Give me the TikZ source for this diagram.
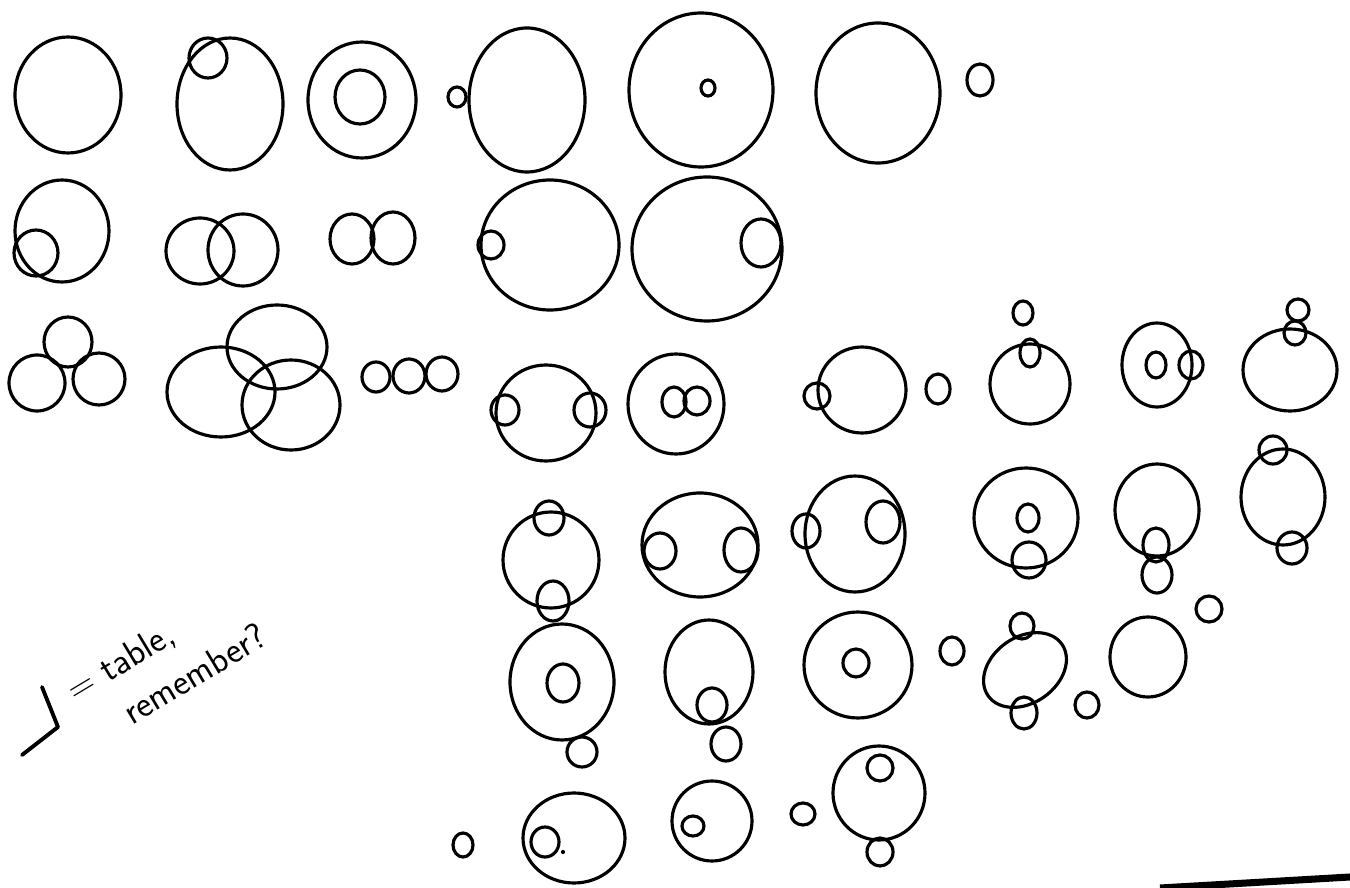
\documentclass[tikz,border=0pt]{standalone}
\usepackage{tikz}
\newcommand{\pxu}{0.02cm}

\begin{document}
\begin{tikzpicture}[
    x=0.02cm, y=-0.02cm,
    ring/.style={draw=black, line width=1.8pt},
    tick/.style={draw=black, line width=2.2pt, line cap=round, line join=round},
    note/.style={font=\sffamily\fontsize{21}{28}\selectfont, inner sep=0pt, align=left}
  ]
    \useasboundingbox (0,0) rectangle (1350,888);

    % row 1
    \draw[ring] (68,95) ellipse [x radius=53*\pxu, y radius=58*\pxu];
    \draw[ring] (230,104) ellipse [x radius=53*\pxu, y radius=66*\pxu];
    \draw[ring] (208,58) ellipse [x radius=19*\pxu, y radius=20*\pxu];
    \draw[ring] (362,100) ellipse [x radius=54*\pxu, y radius=58*\pxu];
    \draw[ring] (360,97) ellipse [x radius=25*\pxu, y radius=27*\pxu];
    \draw[ring] (457,97) ellipse [x radius=9*\pxu, y radius=10*\pxu];
    \draw[ring] (527,100) ellipse [x radius=58*\pxu, y radius=72*\pxu];
    \draw[ring] (701,90) ellipse [x radius=72*\pxu, y radius=77*\pxu];
    \draw[ring] (708,88) ellipse [x radius=7*\pxu, y radius=8*\pxu];
    \draw[ring] (878,93) ellipse [x radius=62*\pxu, y radius=70*\pxu];
    \draw[ring] (980,80) ellipse [x radius=13*\pxu, y radius=16*\pxu];

    % row 2
    \draw[ring] (62,231) ellipse [x radius=47*\pxu, y radius=51*\pxu];
    \draw[ring] (36,253) ellipse [x radius=22*\pxu, y radius=23*\pxu];
    \draw[ring] (200,251) ellipse [x radius=34*\pxu, y radius=33*\pxu];
    \draw[ring] (243,250) ellipse [x radius=35*\pxu, y radius=36*\pxu];
    \draw[ring] (352,239) ellipse [x radius=22*\pxu, y radius=25*\pxu];
    \draw[ring] (393,238) ellipse [x radius=22*\pxu, y radius=26*\pxu];
    \draw[ring] (550,245) ellipse [x radius=69*\pxu, y radius=65*\pxu];
    \draw[ring] (491,245) ellipse [x radius=13*\pxu, y radius=14*\pxu];
    \draw[ring] (707,249) ellipse [x radius=75*\pxu, y radius=72*\pxu];
    \draw[ring] (761,243) ellipse [x radius=20*\pxu, y radius=24*\pxu];

    % row 3, left
    \draw[ring] (68,342) ellipse [x radius=24*\pxu, y radius=25*\pxu];
    \draw[ring] (37,383) ellipse [x radius=28*\pxu, y radius=28*\pxu];
    \draw[ring] (99,379) ellipse [x radius=26*\pxu, y radius=26*\pxu];
    \draw[ring] (221,392) ellipse [x radius=54*\pxu, y radius=45*\pxu];
    \draw[ring] (277,347) ellipse [x radius=50*\pxu, y radius=42*\pxu];
    \draw[ring] (291,405) ellipse [x radius=49*\pxu, y radius=45*\pxu];
    \draw[ring] (376,377) ellipse [x radius=14*\pxu, y radius=15*\pxu];
    \draw[ring] (409,376) ellipse [x radius=16*\pxu, y radius=17*\pxu];
    \draw[ring] (442,374) ellipse [x radius=16*\pxu, y radius=17*\pxu];

    % row 3, right
    \draw[ring] (546,413) ellipse [x radius=50*\pxu, y radius=48*\pxu];
    \draw[ring] (505,410) ellipse [x radius=14*\pxu, y radius=15*\pxu];
    \draw[ring] (590,410) ellipse [x radius=16*\pxu, y radius=17*\pxu];
    \draw[ring] (676,404) ellipse [x radius=48*\pxu, y radius=50*\pxu];
    \draw[ring] (674,402) ellipse [x radius=12*\pxu, y radius=15*\pxu];
    \draw[ring] (697,401) ellipse [x radius=13*\pxu, y radius=14*\pxu];
    \draw[ring] (862,390) ellipse [x radius=44*\pxu, y radius=43*\pxu];
    \draw[ring] (817,396) ellipse [x radius=13*\pxu, y radius=13*\pxu];
    \draw[ring] (938,389) ellipse [x radius=12*\pxu, y radius=15*\pxu];
    \draw[ring] (1030,384) ellipse [x radius=40*\pxu, y radius=40*\pxu];
    \draw[ring] (1030,353) ellipse [x radius=10*\pxu, y radius=14*\pxu];
    \draw[ring] (1023,313) ellipse [x radius=10*\pxu, y radius=12*\pxu];
    \draw[ring] (1157,365) ellipse [x radius=35*\pxu, y radius=42*\pxu];
    \draw[ring] (1156,365) ellipse [x radius=10*\pxu, y radius=13*\pxu];
    \draw[ring] (1191,365) ellipse [x radius=12*\pxu, y radius=14*\pxu];
    \draw[ring] (1290,370) ellipse [x radius=47*\pxu, y radius=41*\pxu];
    \draw[ring] (1298,310) ellipse [x radius=11*\pxu, y radius=11*\pxu];
    \draw[ring] (1295,333) ellipse [x radius=11*\pxu, y radius=12*\pxu];

    % row 4
    \draw[ring] (551,560) ellipse [x radius=48*\pxu, y radius=48*\pxu];
    \draw[ring] (549,518) ellipse [x radius=15*\pxu, y radius=17*\pxu];
    \draw[ring] (553,601) ellipse [x radius=16*\pxu, y radius=20*\pxu];
    \draw[ring] (700,545) ellipse [x radius=58*\pxu, y radius=52*\pxu];
    \draw[ring] (660,551) ellipse [x radius=16*\pxu, y radius=18*\pxu];
    \draw[ring] (741,550) ellipse [x radius=17*\pxu, y radius=22*\pxu];
    \draw[ring] (855,534) ellipse [x radius=50*\pxu, y radius=58*\pxu];
    \draw[ring] (806,531) ellipse [x radius=14*\pxu, y radius=17*\pxu];
    \draw[ring] (883,522) ellipse [x radius=17*\pxu, y radius=21*\pxu];
    \draw[ring] (1026,518) ellipse [x radius=52*\pxu, y radius=50*\pxu];
    \draw[ring] (1028,518) ellipse [x radius=11*\pxu, y radius=14*\pxu];
    \draw[ring] (1029,560) ellipse [x radius=17*\pxu, y radius=18*\pxu];
    \draw[ring] (1157,510) ellipse [x radius=42*\pxu, y radius=46*\pxu];
    \draw[ring] (1156,545) ellipse [x radius=13*\pxu, y radius=17*\pxu];
    \draw[ring] (1157,575) ellipse [x radius=15*\pxu, y radius=18*\pxu];
    \draw[ring] (1283,497) ellipse [x radius=42*\pxu, y radius=48*\pxu];
    \draw[ring] (1273,450) ellipse [x radius=14*\pxu, y radius=14*\pxu];
    \draw[ring] (1292,548) ellipse [x radius=15*\pxu, y radius=16*\pxu];

    % row 5
    \draw[ring] (562,682) ellipse [x radius=52*\pxu, y radius=58*\pxu];
    \draw[ring] (563,683) ellipse [x radius=16*\pxu, y radius=19*\pxu];
    \draw[ring] (582,752) ellipse [x radius=15*\pxu, y radius=15*\pxu];
    \draw[ring] (709,672) ellipse [x radius=44*\pxu, y radius=52*\pxu];
    \draw[ring] (712,705) ellipse [x radius=15*\pxu, y radius=17*\pxu];
    \draw[ring] (726,744) ellipse [x radius=15*\pxu, y radius=17*\pxu];
    \draw[ring] (858,665) ellipse [x radius=54*\pxu, y radius=53*\pxu];
    \draw[ring] (856,663) ellipse [x radius=13*\pxu, y radius=14*\pxu];
    \draw[ring] (952,651) ellipse [x radius=12*\pxu, y radius=14*\pxu];
    \draw[ring, rotate around={35:(1025,670)}] (1025,670) ellipse [x radius=45*\pxu, y radius=33*\pxu];
    \draw[ring] (1022,626) ellipse [x radius=12*\pxu, y radius=13*\pxu];
    \draw[ring] (1024,713) ellipse [x radius=13*\pxu, y radius=16*\pxu];
    \draw[ring] (1087,705) ellipse [x radius=12*\pxu, y radius=13*\pxu];
    \draw[ring] (1148,657) ellipse [x radius=38*\pxu, y radius=40*\pxu];
    \draw[ring] (1209,609) ellipse [x radius=13*\pxu, y radius=13*\pxu];

    % row 6
    \draw[ring] (463,845) ellipse [x radius=10*\pxu, y radius=12*\pxu];
    \draw[ring] (574,838) ellipse [x radius=51*\pxu, y radius=45*\pxu];
    \draw[ring] (545,842) ellipse [x radius=14*\pxu, y radius=15*\pxu];
    \fill (563,852) circle [radius=1.2pt];
    \draw[ring] (712,821) ellipse [x radius=40*\pxu, y radius=40*\pxu];
    \draw[ring] (693,826) ellipse [x radius=11*\pxu, y radius=10*\pxu];
    \draw[ring] (803,814) ellipse [x radius=12*\pxu, y radius=11*\pxu];
    \draw[ring] (879,793) ellipse [x radius=46*\pxu, y radius=47*\pxu];
    \draw[ring] (880,768) ellipse [x radius=13*\pxu, y radius=13*\pxu];
    \draw[ring] (880,852) ellipse [x radius=13*\pxu, y radius=14*\pxu];

    % note
    \draw[tick] (42,687) -- (58,727) -- (22,755);
    \node[note, rotate=31] (tablenote) at (166,662) {= table,\\\hspace*{1em}remember?};

    % edge stroke
    \draw[black, line width=4pt] (1160,888) -- (1350,877);
  \end{tikzpicture}
\end{document}
